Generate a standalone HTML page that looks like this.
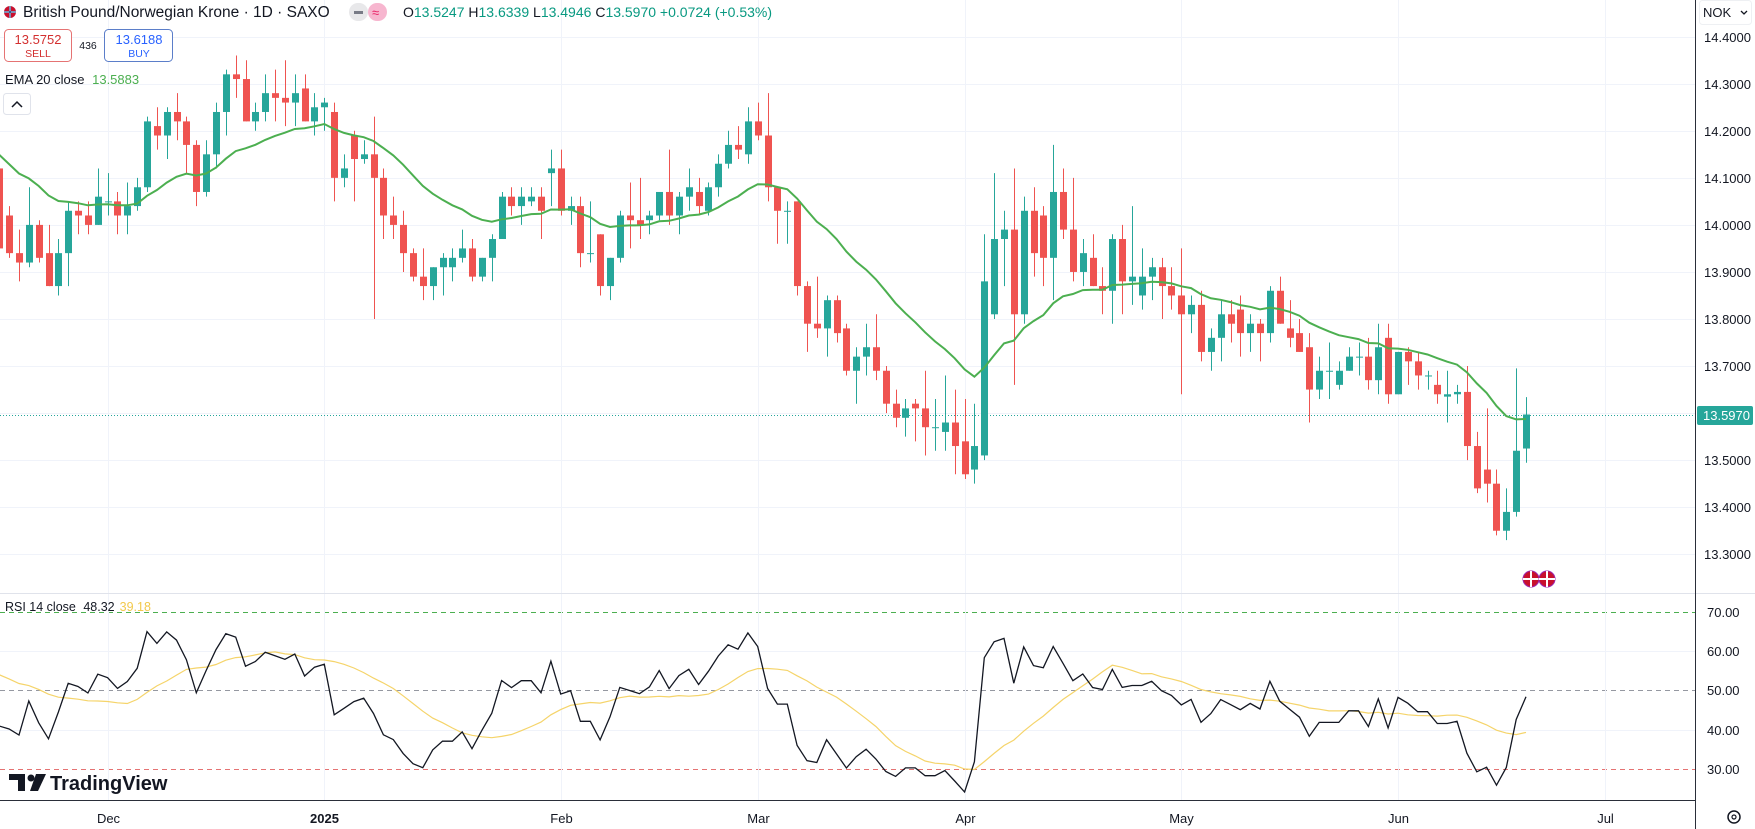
<!DOCTYPE html>
<html><head><meta charset="utf-8">
<style>
html,body{margin:0;padding:0;background:#fff;}
svg{display:block;font-family:"Liberation Sans",sans-serif;}
</style></head>
<body>
<svg id="chart" width="1755" height="829" viewBox="0 0 1755 829" xmlns="http://www.w3.org/2000/svg">
  <rect x="0" y="0" width="1755" height="829" fill="#ffffff"/>
  <g id="grid"></g>
  <g id="candles"></g>
  <g id="ind"></g>
  <g id="axes"></g>

  <line x1="0" y1="593.5" x2="1755" y2="593.5" stroke="#e0e3eb" stroke-width="1"/>
  <line x1="0" y1="800.5" x2="1695" y2="800.5" stroke="#2a2e39" stroke-width="1"/>
  <line x1="1695.5" y1="0" x2="1695.5" y2="829" stroke="#2a2e39" stroke-width="1"/>

  <g>
    <circle cx="10" cy="12" r="6" fill="#c8102e"/>
    <path d="M4 12 H16 M10 6 V18" stroke="#ffffff" stroke-width="2"/>
    <path d="M4 12 H16 M10 6 V18" stroke="#012169" stroke-width="1"/>
  </g>
  <text x="23" y="17" font-size="15.5" fill="#131722">British Pound/Norwegian Krone · 1D · SAXO</text>
  <rect x="349" y="3" width="19" height="18" rx="9" fill="#e8e8ea"/>
  <rect x="354" y="11" width="9" height="3" fill="#787b86"/>
  <rect x="368" y="3" width="19" height="18" rx="9" fill="#f7b6cf"/>
  <text x="372" y="17" font-size="13" fill="#e91e63">≈</text>
  <text x="403" y="17" font-size="14" fill="#089981"><tspan fill="#131722">O</tspan>13.5247 <tspan fill="#131722">H</tspan>13.6339 <tspan fill="#131722">L</tspan>13.4946 <tspan fill="#131722">C</tspan>13.5970 +0.0724 (+0.53%)</text>

  <g>
    <rect x="4.5" y="29.5" width="67" height="32" rx="4" fill="#fff" stroke="#e57373"/>
    <text x="38" y="44" font-size="13" fill="#d32f2f" text-anchor="middle">13.5752</text>
    <text x="38" y="57" font-size="10.5" fill="#d32f2f" text-anchor="middle">SELL</text>
  </g>
  <text x="88" y="49" font-size="10.5" fill="#131722" text-anchor="middle">436</text>
  <g>
    <rect x="104.5" y="29.5" width="68" height="32" rx="4" fill="#fff" stroke="#5b7ec9"/>
    <text x="139" y="44" font-size="13" fill="#2962ff" text-anchor="middle">13.6188</text>
    <text x="139" y="57" font-size="10.5" fill="#2962ff" text-anchor="middle">BUY</text>
  </g>
  <text x="5" y="84" font-size="13" fill="#131722">EMA 20 close <tspan fill="#4caf50" dx="4">13.5883</tspan></text>
  <g>
    <rect x="3.5" y="93.5" width="27" height="21" rx="3" fill="#fff" stroke="#e0e3eb"/>
    <path d="M12 107 L17 102 L22 107" fill="none" stroke="#131722" stroke-width="1.5"/>
  </g>
  <text x="5" y="611" font-size="12.5" fill="#131722">RSI 14 close <tspan dx="4">48.32</tspan><tspan fill="#f2c94c" dx="5">39.18</tspan></text>

  <g>
    <rect x="1699.5" y="0.5" width="52" height="24" rx="3" fill="#fff" stroke="#eef0f3"/>
    <text x="1703" y="17" font-size="13" fill="#131722">NOK</text>
    <path d="M1741 11 L1744 14 L1747 11" fill="none" stroke="#131722" stroke-width="1.3"/>
  </g>
  <g>
    <circle cx="1531" cy="579" r="8" fill="#c8102e" stroke="#9c27b0" stroke-width="1"/>
    <path d="M1523 579 H1539 M1531 571 V587" stroke="#fff" stroke-width="2"/>
    <circle cx="1547" cy="579" r="8" fill="#c8102e" stroke="#9c27b0" stroke-width="1"/>
    <path d="M1539 579 H1555 M1547 571 V587" stroke="#fff" stroke-width="2"/>
  </g>
  <g>
    <path d="M9 774 H25 V791 H18 V780 H9 Z" fill="#131722"/>
    <circle cx="31" cy="778" r="3.5" fill="#131722"/>
    <path d="M36 774 H46 L38 791 H30 Z" fill="#131722"/>
    <text x="50" y="790" font-size="20" font-weight="bold" fill="#131722">TradingView</text>
  </g>
  <g>
    <circle cx="1734" cy="817" r="6" fill="none" stroke="#131722" stroke-width="1.5"/>
    <circle cx="1734" cy="817" r="2" fill="none" stroke="#131722" stroke-width="1.2"/>
  </g>

<script>
const opens = [14.12,14.02,13.94,13.92,14.00,13.94,13.87,13.94,14.03,14.02,14.00,14.05,14.05,14.02,14.04,14.08,14.21,14.19,14.24,14.22,14.17,14.07,14.15,14.24,14.32,14.31,14.22,14.24,14.28,14.27,14.26,14.29,14.22,14.25,14.24,14.10,14.19,14.14,14.15,14.10,14.02,14.00,13.94,13.89,13.87,13.91,13.91,13.93,13.95,13.89,13.93,13.97,14.06,14.04,14.05,14.06,14.11,14.12,14.03,14.04,13.94,13.98,13.87,13.93,14.02,14.01,14.01,14.02,14.07,14.02,14.06,14.07,14.03,14.08,14.13,14.17,14.15,14.22,14.19,14.08,14.03,14.05,13.87,13.79,13.78,13.84,13.78,13.69,13.72,13.74,13.69,13.62,13.59,13.62,13.61,13.57,13.56,13.58,13.54,13.48,13.51,13.81,13.97,13.99,13.81,14.03,14.02,13.93,14.07,13.99,13.90,13.93,13.87,13.86,13.97,13.88,13.85,13.89,13.91,13.87,13.85,13.81,13.83,13.73,13.76,13.81,13.82,13.77,13.79,13.77,13.86,13.78,13.77,13.74,13.65,13.69,13.66,13.69,13.72,13.72,13.67,13.76,13.64,13.73,13.71,13.68,13.66,13.635,13.64,13.645,13.53,13.48,13.45,13.35,13.39,13.5247];
const highs = [14.14,14.04,13.99,14.08,14.01,14.00,13.97,14.05,14.05,14.05,14.12,14.11,14.07,14.09,14.10,14.23,14.25,14.25,14.28,14.23,14.18,14.18,14.26,14.33,14.36,14.35,14.26,14.32,14.33,14.35,14.32,14.32,14.28,14.27,14.26,14.15,14.20,14.18,14.23,14.12,14.06,14.03,13.95,13.95,13.91,13.94,13.95,13.99,13.97,13.93,13.98,14.07,14.08,14.08,14.08,14.08,14.16,14.16,14.06,14.06,14.05,13.98,13.93,14.03,14.09,14.10,14.03,14.07,14.16,14.07,14.12,14.10,14.09,14.15,14.20,14.21,14.25,14.26,14.28,14.08,14.05,14.05,13.88,13.89,13.85,13.85,13.79,13.74,13.79,13.81,13.70,13.65,13.63,13.63,13.69,13.63,13.68,13.65,13.63,13.62,13.98,14.11,14.03,14.12,14.06,14.08,14.04,14.17,14.12,14.10,13.97,13.98,13.91,13.98,14.00,14.04,13.95,13.93,13.93,13.91,13.95,13.85,13.86,13.78,13.84,13.84,13.85,13.81,13.80,13.87,13.89,13.84,13.80,13.77,13.72,13.75,13.71,13.74,13.75,13.76,13.79,13.79,13.73,13.74,13.73,13.69,13.69,13.69,13.66,13.70,13.56,13.61,13.48,13.44,13.695,13.6339];
const lows = [13.93,13.93,13.88,13.91,13.92,13.87,13.85,13.87,13.98,13.98,14.00,14.02,13.98,13.98,14.03,14.07,14.16,14.14,14.18,14.11,14.04,14.06,14.12,14.19,14.27,14.22,14.20,14.22,14.22,14.21,14.21,14.22,14.19,14.20,14.05,14.08,14.05,14.13,13.80,13.97,13.97,13.90,13.88,13.84,13.84,13.85,13.88,13.92,13.88,13.88,13.88,13.97,14.02,14.00,14.04,13.97,14.04,14.02,14.00,13.91,13.92,13.85,13.84,13.92,13.95,13.97,13.98,14.01,14.00,13.98,14.03,14.02,14.02,14.06,14.12,14.14,14.13,14.18,14.05,13.96,13.96,13.85,13.73,13.76,13.72,13.75,13.68,13.62,13.68,13.67,13.60,13.57,13.55,13.54,13.51,13.52,13.52,13.47,13.46,13.45,13.50,13.80,13.87,13.66,13.79,13.89,13.87,13.84,13.97,13.88,13.87,13.87,13.81,13.79,13.81,13.83,13.82,13.84,13.80,13.82,13.64,13.77,13.71,13.69,13.71,13.75,13.72,13.73,13.71,13.75,13.79,13.74,13.73,13.58,13.63,13.63,13.65,13.69,13.68,13.65,13.64,13.62,13.64,13.66,13.65,13.65,13.62,13.58,13.62,13.50,13.43,13.41,13.34,13.33,13.38,13.4946];
const closes = [13.95,13.94,13.92,14.00,13.93,13.87,13.94,14.03,14.02,14.00,14.06,14.05,14.02,14.04,14.08,14.22,14.19,14.24,14.22,14.17,14.07,14.15,14.24,14.32,14.31,14.22,14.24,14.28,14.27,14.26,14.28,14.22,14.25,14.26,14.10,14.12,14.14,14.15,14.10,14.02,14.00,13.94,13.89,13.87,13.91,13.93,13.93,13.95,13.89,13.93,13.97,14.06,14.04,14.06,14.06,14.03,14.12,14.03,14.04,13.94,13.94,13.87,13.93,14.02,14.01,14.00,14.02,14.07,14.02,14.06,14.08,14.04,14.08,14.13,14.17,14.16,14.22,14.19,14.08,14.03,14.03,13.87,13.79,13.78,13.84,13.77,13.69,13.72,13.74,13.69,13.62,13.59,13.61,13.61,13.57,13.57,13.58,13.53,13.47,13.53,13.88,13.97,13.99,13.81,14.03,13.94,13.93,14.07,13.99,13.90,13.94,13.87,13.86,13.97,13.88,13.89,13.89,13.91,13.87,13.85,13.81,13.83,13.73,13.76,13.81,13.79,13.77,13.79,13.77,13.86,13.79,13.76,13.73,13.65,13.69,13.69,13.69,13.72,13.72,13.67,13.74,13.64,13.73,13.71,13.68,13.68,13.64,13.64,13.645,13.53,13.44,13.45,13.35,13.39,13.52,13.597];
const priceTicks = [14.4,14.3,14.2,14.1,14.0,13.9,13.8,13.7,13.6,13.5,13.4,13.3];
const rsiTicks = [70,60,50,40,30];
const monthLabels = ["Dec","2025","Feb","Mar","Apr","May","Jun","Jul"];
const monthBarIndex = [11,33,57,77,98,120,142,163];
const lastPrice = 13.597;
const emaSeed = 14.17;
const rsiSeedGain = 0.018, rsiSeedLoss = 0.026, rsiMaSeed = 55;

const NS = "http://www.w3.org/2000/svg";
const N = closes.length;
const step = 9.85;
const xOf = i => 1526 - (N - 1 - i) * step;
const yP = p => 36.7 + (14.4 - p) * 470.5;
const yR = v => 612 + (70 - v) * 3.92;
function mk(tag, attrs, parent) {
  const e = document.createElementNS(NS, tag);
  for (const k in attrs) e.setAttribute(k, attrs[k]);
  parent.appendChild(e);
  return e;
}
const grid = document.getElementById("grid");
const axes = document.getElementById("axes");
const cg = document.getElementById("candles");
const ind = document.getElementById("ind");

priceTicks.forEach(p => {
  const y = Math.round(yP(p)) + 0.5;
  const l = mk("line", {x1: 0, x2: 1695, y1: y, y2: y, stroke: "#f0f3fa", "stroke-width": 1}, grid);
  
  
  const t = mk("text", {x: 1704, y: y + 4.5, "font-size": 13, fill: "#131722"}, axes);
  t.textContent = p.toFixed(4);
  
  
});
rsiTicks.forEach(v => {
  const y = Math.round(yR(v)) + 0.5;
  let stroke = "#f0f3fa", dash = "";
  if (v === 70) { stroke = "#4caf50"; dash = "5,4"; }
  if (v === 50) { stroke = "#9598a1"; dash = "5,4"; }
  if (v === 30) { stroke = "#e57373"; dash = "5,4"; }
  const l = mk("line", {x1: 0, x2: 1695, y1: y, y2: y, stroke: stroke, "stroke-width": 1, "stroke-dasharray": dash}, grid);
  
  
  const t = mk("text", {x: 1707, y: y + 4.5, "font-size": 13, fill: "#131722"}, axes);
  t.textContent = v.toFixed(2);
  
  
});
monthLabels.forEach((m, k) => {
  const x = Math.round(xOf(monthBarIndex[k])) + 0.5;
  const l = mk("line", {x1: x, x2: x, y1: 0, y2: 800, stroke: "#f0f3fa", "stroke-width": 1}, grid);
  
  
  const t = mk("text", {x: x, y: 823, "font-size": 13, fill: "#131722", "text-anchor": "middle", "font-weight": m === "2025" ? "bold" : "normal"}, axes);
  t.textContent = m;
  
  
});
{
  const y = Math.round(yP(lastPrice)) + 0.5;
  const l = mk("line", {x1: 0, x2: 1695, y1: y, y2: y, stroke: "#26a69a", "stroke-width": 1, "stroke-dasharray": "1,2"}, grid);
  
  
  const r = mk("rect", {x: 1697, y: y - 9.5, width: 56, height: 19, rx: 2, fill: "#26a69a"}, axes);
  
  
  const t = mk("text", {x: 1703, y: y + 4.5, "font-size": 13, fill: "#fff"}, axes);
  t.textContent = lastPrice.toFixed(4);
  
  
}
for (let i = 0; i < N; i++) {
  const up = closes[i] >= opens[i];
  const col = up ? "#26a69a" : "#ef5350";
  const x = Math.round(xOf(i));
  const w = mk("line", {x1: x + 0.5, x2: x + 0.5, y1: yP(highs[i]), y2: yP(lows[i]), stroke: col, "stroke-width": 1}, cg);
  
  
  const top = yP(Math.max(opens[i], closes[i]));
  const h = Math.max(1, yP(Math.min(opens[i], closes[i])) - top);
  const b = mk("rect", {x: x - 3, y: top, width: 7, height: h, fill: col}, cg);
  
  
}
{
  const a = 2 / 21;
  let e = emaSeed;
  const pts = [];
  for (let i = 0; i < N; i++) { e = a * closes[i] + (1 - a) * e; pts.push(xOf(i).toFixed(1) + "," + yP(e).toFixed(1)); }
  const p = mk("polyline", {points: pts.join(" "), fill: "none", stroke: "#4caf50", "stroke-width": 2}, ind);
  
  
}
{
  let ag = rsiSeedGain, al = rsiSeedLoss;
  const rsi = [];
  for (let i = 0; i < N; i++) {
    const d = i === 0 ? 0 : closes[i] - closes[i - 1];
    ag = (ag * 13 + Math.max(d, 0)) / 14;
    al = (al * 13 + Math.max(-d, 0)) / 14;
    rsi.push(100 - 100 / (1 + ag / al));
  }
  const ma = rsi.map((v, i) => {
    let s = 0;
    for (let k = i - 13; k <= i; k++) s += k >= 0 ? rsi[k] : rsiMaSeed;
    return s / 14;
  });
  const mp = mk("polyline", {points: ma.map((v, i) => xOf(i).toFixed(1) + "," + yR(v).toFixed(1)).join(" "), fill: "none", stroke: "#f5d46a", "stroke-width": 1.2}, ind);
  
  
  const rp = mk("polyline", {points: rsi.map((v, i) => xOf(i).toFixed(1) + "," + yR(v).toFixed(1)).join(" "), fill: "none", stroke: "#131722", "stroke-width": 1.3}, ind);
  
  
}
</script>
</svg>
</body></html>
